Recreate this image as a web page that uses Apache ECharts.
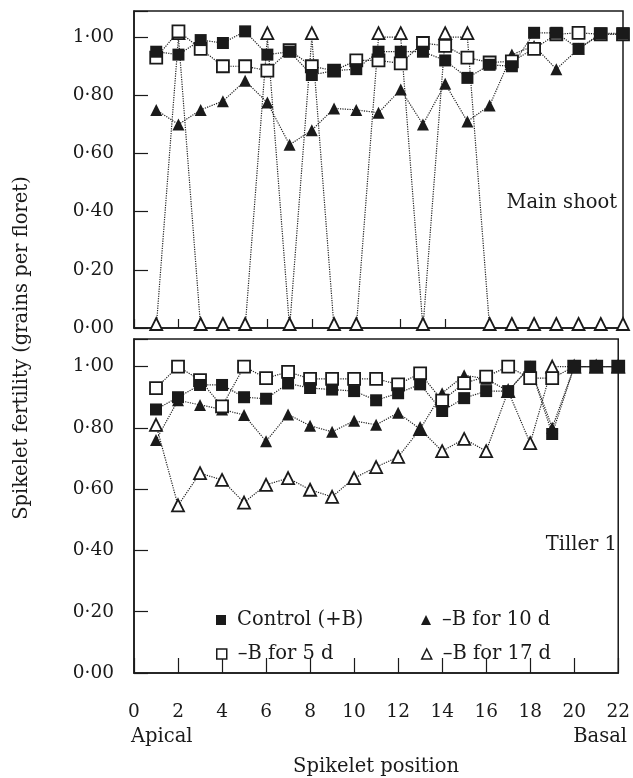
<!DOCTYPE html>
<html><head><meta charset="utf-8">
<script src="https://cdn.jsdelivr.net/npm/echarts@6/dist/echarts.min.js"></script>
<style>html,body{margin:0;padding:0;background:#fff}#c{width:633px;height:778px}</style>
</head><body><div id="c"></div>
<script>
// ---- data ----
const positions = [1,2,3,4,5,6,7,8,9,10,11,12,13,14,15,16,17,18,19,20,21,22];
const xTickLabels = ['0','2','4','6','8','10','12','14','16','18','20','22'];
const yTickLabels = ['0·00','0·20','0·40','0·60','0·80','1·00'];
const seriesNames = ['Control (+B)', '\u2013B for 10 d', '\u2013B for 5 d', '\u2013B for 17 d'];
const panelNames = ['Main shoot', 'Tiller 1'];

// Main shoot
const mainControl = [0.95,0.94,0.99,0.98,1.02,0.94,0.95,0.87,0.885,0.89,0.95,0.95,0.95,0.92,0.86,0.905,0.90,1.015,1.015,0.96,1.013,1.013];
const main10d    = [0.75,0.70,0.75,0.78,0.85,0.775,0.63,0.68,0.755,0.75,0.74,0.82,0.70,0.84,0.71,0.765,0.94,0.97,0.89,0.96,1.01,1.01];
const main5d     = [0.93,1.02,0.96,0.90,0.90,0.885,0.955,0.90,0.885,0.92,0.92,0.91,0.98,0.97,0.93,0.913,0.917,0.96,1.01,1.015,1.01,1.01];
const main17d    = [0,1,0,0,0,1,0,1,0,0,1,1,0,1,1,0,0,0,0,0,0,0];

// Tiller 1
const tilControl = [0.86,0.90,0.94,0.94,0.90,0.895,0.945,0.93,0.925,0.92,0.89,0.913,0.942,0.855,0.897,0.92,0.92,1.0,0.78,1.0,1.0,1.0];
const til10d     = [0.76,0.89,0.875,0.86,0.842,0.756,0.844,0.807,0.787,0.823,0.81,0.849,0.796,0.913,0.972,0.96,0.92,1.0,0.80,1.0,1.0,1.0];
const til5d      = [0.93,1.0,0.956,0.87,1.0,0.962,0.983,0.96,0.96,0.96,0.96,0.942,0.978,0.889,0.946,0.967,1.0,0.962,0.962,1.0,1.0,1.0];
const til17d     = [0.81,0.547,0.652,0.63,0.556,0.614,0.636,0.598,0.575,0.636,0.672,0.705,0.796,0.724,0.764,0.724,0.92,0.75,1.0,1.0,1.0,1.0];

// ---- chart ----
const FONT = 'DejaVu Serif';
const INK = '#1a1a1a';
const FS = 19.5;     // titles / legend / panel names
const FST = 18.5;    // tick labels
const chart = echarts.init(document.getElementById('c'));

function fmtY(v){
  const i = Math.round(v / 0.2);
  return (Math.abs(v - i * 0.2) < 1e-6 && i >= 0 && i < yTickLabels.length) ? yTickLabels[i] : '';
}
function fmtX(v){
  const i = Math.round(v / 2);
  return (Math.abs(v - i * 2) < 1e-6 && i >= 0 && i < xTickLabels.length) ? xTickLabels[i] : '';
}
function pairs(arr){ return positions.map((p, i) => [p, arr[i]]); }

const styles = {
  control: {symbol:'rect', itemStyle:{color:INK, borderColor:INK, borderWidth:0}},
  d10:     {symbol:'triangle', itemStyle:{color:INK, borderColor:INK, borderWidth:0}},
  d5:      {symbol:'rect', itemStyle:{color:'#fff', borderColor:INK, borderWidth:1.8}},
  d17:     {symbol:'triangle', itemStyle:{color:'#fff', borderColor:INK, borderWidth:1.8}}
};

function mkSeries(name, st, data, gi, extra){
  return Object.assign({
    name: name, type:'line', xAxisIndex: gi, yAxisIndex: gi,
    data: pairs(data), symbol: st.symbol, symbolSize: 12,
    itemStyle: st.itemStyle,
    lineStyle: {type:'dotted', color:'#222', width:1.2},
    clip: false, animation: false
  }, extra || {});
}

const series = [
  // draw order: open triangles, filled triangles, open squares, filled squares
  mkSeries(seriesNames[3], styles.d17, main17d, 0, {symbolOffset:[0,-4]}),
  mkSeries(seriesNames[1], styles.d10, main10d, 0),
  mkSeries(seriesNames[2], styles.d5, main5d, 0),
  mkSeries(seriesNames[0], styles.control, mainControl, 0),
  mkSeries(seriesNames[3], styles.d17, til17d, 1),
  mkSeries(seriesNames[1], styles.d10, til10d, 1),
  mkSeries(seriesNames[2], styles.d5, til5d, 1),
  mkSeries(seriesNames[0], styles.control, tilControl, 1)
];

const gridCommon = {left:134, width:489, show:true, borderColor:INK, borderWidth:1.5, backgroundColor:'rgba(0,0,0,0)'};
function xAx(gi, tickLen, showLabel){
  const a = {
    gridIndex: gi, type:'value', min:0, max:22, interval:2,
    axisLine:{show:true, onZero:false, lineStyle:{color:INK, width:1.5}},
    axisTick:{show:true, inside:true, length:tickLen, lineStyle:{color:INK, width:1.2}},
    splitLine:{show:false},
    axisLabel:{show:showLabel, margin:30, fontFamily:FONT, fontSize:FST, color:INK, formatter:fmtX}
  };
  if (showLabel) {
    a.name = 'Spikelet position';
    a.nameLocation = 'middle';
    a.nameGap = 84;
    a.nameTextStyle = {fontFamily:FONT, fontSize:FS, color:INK};
  }
  return a;
}
function yAx(gi){
  return {
    gridIndex: gi, type:'value', min:0, max:1.09, interval:0.2,
    axisLine:{show:true, onZero:false, lineStyle:{color:INK, width:1.5}},
    axisTick:{show:true, inside:true, length:14, lineStyle:{color:INK, width:1.2}},
    splitLine:{show:false},
    axisLabel:{show:true, margin:20, fontFamily:FONT, fontSize:FST, color:INK, formatter:fmtY}
  };
}

function legendItem(name, icon, itemStyle, left, top){
  return {
    data:[name], left:left, top:top, orient:'horizontal', icon:icon, padding:0,
    itemWidth:10, itemHeight:10, itemStyle:itemStyle,
    selectedMode:false,
    textStyle:{fontFamily:FONT, fontSize:FS, color:INK, padding:[0,0,0,6]}
  };
}

const option = {
  backgroundColor:'#fff',
  animation:false,
  grid:[
    Object.assign({top:11, height:317}, gridCommon),
    Object.assign({top:339, height:341}, gridCommon)
  ],
  xAxis:[xAx(0, 9, false), xAx(1, 15, true)],
  yAxis:[yAx(0), yAx(1)],
  legend:[
    legendItem(seriesNames[0], 'rect', {color:INK, borderWidth:0}, 216, 610),
    legendItem(seriesNames[1], 'triangle', {color:INK, borderWidth:0}, 421, 610),
    legendItem(seriesNames[2], 'rect', {color:'#fff', borderColor:INK, borderWidth:1.5}, 216, 644),
    legendItem(seriesNames[3], 'triangle', {color:'#fff', borderColor:INK, borderWidth:1.5}, 421, 644)
  ],
  graphic:[
    {type:'text', x:22, y:348, rotation:Math.PI/2,
     style:{text:'Spikelet fertility (grains per floret)', font:FS+'px "'+FONT+'"', fill:INK, textAlign:'center', textVerticalAlign:'middle'}},
    {type:'text', x:131, y:737,
     style:{text:'Apical', font:FS+'px "'+FONT+'"', fill:INK, textAlign:'left', textVerticalAlign:'middle'}},
    {type:'text', x:627, y:737,
     style:{text:'Basal', font:FS+'px "'+FONT+'"', fill:INK, textAlign:'right', textVerticalAlign:'middle'}},
    {type:'text', x:617, y:203,
     style:{text:panelNames[0], font:FS+'px "'+FONT+'"', fill:INK, textAlign:'right', textVerticalAlign:'middle'}},
    {type:'text', x:617, y:545,
     style:{text:panelNames[1], font:FS+'px "'+FONT+'"', fill:INK, textAlign:'right', textVerticalAlign:'middle'}}
  ],
  series: series
};
chart.setOption(option);
</script>
</body></html>
